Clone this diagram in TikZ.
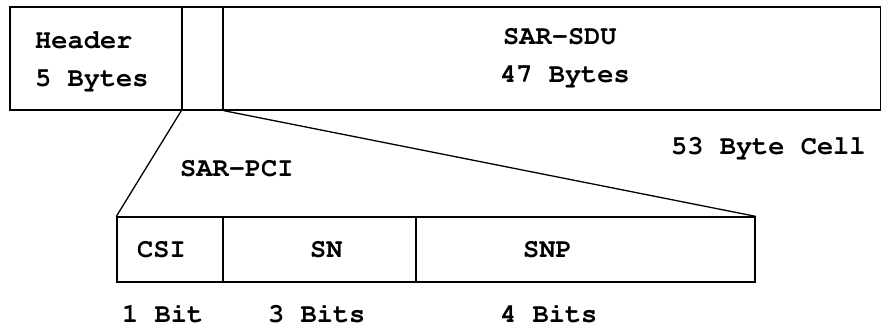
\documentclass[tikz,border=0pt]{standalone}
\usepackage[T1]{fontenc}
\newcommand\courbold{\fontencoding{T1}\fontfamily{pcr}\fontseries{b}\fontshape{n}\fontsize{27}{27}\selectfont}
\begin{document}
\begin{tikzpicture}[x=1pt,y=-1pt,
  cell/.style={draw,line width=1.3pt,inner sep=0pt},
  lbl/.style={anchor=base west,inner sep=0pt,font=\courbold},
  conn/.style={line width=1.3pt}]
\useasboundingbox (0,0) rectangle (882,328);
% top cell
\node[cell,minimum width=172pt,minimum height=103pt] (hdr) at (96,58.5) {};
\node[cell,minimum width=41pt,minimum height=103pt] (pci) at (202.5,58.5) {};
\node[cell,minimum width=657pt,minimum height=103pt] (sdu) at (552,58.5) {};
% bottom cell
\node[cell,minimum width=106pt,minimum height=65pt] (csi) at (170,249.5) {};
\node[cell,minimum width=193pt,minimum height=65pt] (sn) at (319.5,249.5) {};
\node[cell,minimum width=339pt,minimum height=65pt] (snp) at (585.5,249.5) {};
% connectors
\draw[conn] (pci.south west) -- (csi.north west);
\draw[conn] (pci.south east) -- (snp.north east);
% texts
\node[lbl] (t1) at (35,49) {Header};
\node[lbl] (t2) at (35,87) {5 Bytes};
\node[lbl] (t3) at (503,45) {SAR-SDU};
\node[lbl] (t4) at (500,83) {47 Bytes};
\node[lbl] (t5) at (671,155) {53 Byte Cell};
\node[lbl] (t6) at (180,177) {SAR-PCI};
\node[lbl] (t7) at (137,258) {CSI};
\node[lbl] (t8) at (310,258) {SN};
\node[lbl] (t9) at (523,258) {SNP};
\node[lbl] (t10) at (122,322) {1 Bit};
\node[lbl] (t11) at (268,322) {3 Bits};
\node[lbl] (t12) at (500,322) {4 Bits};
\end{tikzpicture}
\end{document}
